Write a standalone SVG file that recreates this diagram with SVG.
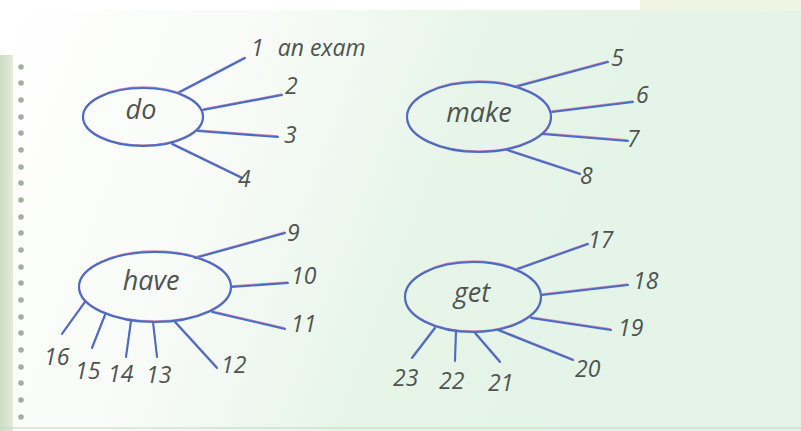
<svg xmlns="http://www.w3.org/2000/svg" width="801" height="431" viewBox="0 0 801 431">
  <defs>
    <linearGradient id="bg" x1="0" y1="0" x2="801" y2="300" gradientUnits="userSpaceOnUse">
      <stop offset="0" stop-color="#ffffff"/>
      <stop offset="0.3" stop-color="#f8fbf7"/>
      <stop offset="0.55" stop-color="#e7f5e9"/>
      <stop offset="1" stop-color="#e3f3e7"/>
    </linearGradient>
    <linearGradient id="strip" x1="0" y1="0" x2="16" y2="0" gradientUnits="userSpaceOnUse">
      <stop offset="0" stop-color="#cddcc3"/>
      <stop offset="1" stop-color="#e8efde"/>
    </linearGradient>
  </defs>
  <style>
    .bubble { fill: none; stroke: #4b6cc4; stroke-width: 2.2; }
    .under { fill: none; stroke: #d58bb0; stroke-width: 1.3; }
    .word { font-family: "Open Sans", "DejaVu Sans", sans-serif; font-style: italic; font-size: 27px; fill: #4e534f; text-anchor: middle; }
    .num { font-family: "Open Sans", "DejaVu Sans", sans-serif; font-style: italic; font-size: 23px; fill: #4e534f; }
    .conn line { stroke: #4b6cc4; stroke-width: 2.1; stroke-linecap: round; }
    .connu line { stroke: #d58bb0; stroke-width: 1.3; }
    .dot { fill: #a3b09f; }
  </style>

  <!-- paper background -->
  <rect x="0" y="0" width="801" height="431" fill="url(#bg)"/>
  <rect x="0" y="0" width="801" height="10" fill="#ffffff"/>
  <rect x="640" y="0" width="161" height="11" fill="#eef3e2"/>
  <rect x="0" y="55" width="13" height="376" fill="url(#strip)"/>
  <g id="perforation">
    <circle class="dot" cx="21" cy="67" r="2.8"/>
    <circle class="dot" cx="21" cy="83" r="2.8"/>
    <circle class="dot" cx="21" cy="100" r="2.8"/>
    <circle class="dot" cx="21" cy="117" r="2.8"/>
    <circle class="dot" cx="21" cy="133" r="2.8"/>
    <circle class="dot" cx="21" cy="150" r="2.8"/>
    <circle class="dot" cx="21" cy="167" r="2.8"/>
    <circle class="dot" cx="21" cy="183" r="2.8"/>
    <circle class="dot" cx="21" cy="200" r="2.8"/>
    <circle class="dot" cx="21" cy="217" r="2.8"/>
    <circle class="dot" cx="21" cy="233" r="2.8"/>
    <circle class="dot" cx="21" cy="250" r="2.8"/>
    <circle class="dot" cx="21" cy="267" r="2.8"/>
    <circle class="dot" cx="21" cy="283" r="2.8"/>
    <circle class="dot" cx="21" cy="300" r="2.8"/>
    <circle class="dot" cx="21" cy="317" r="2.8"/>
    <circle class="dot" cx="21" cy="333" r="2.8"/>
    <circle class="dot" cx="21" cy="350" r="2.8"/>
    <circle class="dot" cx="21" cy="367" r="2.8"/>
    <circle class="dot" cx="21" cy="383" r="2.8"/>
    <circle class="dot" cx="21" cy="400" r="2.8"/>
    <circle class="dot" cx="21" cy="417" r="2.8"/>
  </g>
  <line x1="0" y1="428" x2="801" y2="428" stroke="#c8d3c4" stroke-width="1"/>

  <!-- connectors -->
  <g id="connectors">
    <g class="connu" transform="translate(0,-1)">
      <line x1="178" y1="93" x2="245" y2="58"/>
      <line x1="203" y1="110" x2="282" y2="95"/>
      <line x1="198" y1="131" x2="278" y2="137"/>
      <line x1="172" y1="144" x2="242" y2="178"/>
      <line x1="515" y1="87" x2="608" y2="62"/>
      <line x1="552" y1="112" x2="633" y2="102"/>
      <line x1="542" y1="134" x2="628" y2="141"/>
      <line x1="507" y1="150" x2="580" y2="174"/>
      <line x1="195" y1="258" x2="285" y2="233"/>
      <line x1="231" y1="287" x2="288" y2="283"/>
      <line x1="212" y1="312" x2="285" y2="329"/>
      <line x1="175" y1="322" x2="217" y2="368"/>
      <line x1="153" y1="322" x2="157" y2="357"/>
      <line x1="131" y1="321" x2="126" y2="357"/>
      <line x1="105" y1="315" x2="92" y2="348"/>
      <line x1="85" y1="302" x2="62" y2="334"/>
      <line x1="515" y1="270" x2="588" y2="244"/>
      <line x1="542" y1="295" x2="628" y2="285"/>
      <line x1="531" y1="318" x2="611" y2="330"/>
      <line x1="498" y1="330" x2="573" y2="360"/>
      <line x1="475" y1="333" x2="500" y2="362"/>
      <line x1="456" y1="330" x2="455" y2="361"/>
      <line x1="435" y1="328" x2="412" y2="358"/>
    </g>
    <g class="conn">
      <line x1="178" y1="93" x2="245" y2="58"/>
      <line x1="203" y1="110" x2="282" y2="95"/>
      <line x1="198" y1="131" x2="278" y2="137"/>
      <line x1="172" y1="144" x2="242" y2="178"/>
      <line x1="515" y1="87" x2="608" y2="62"/>
      <line x1="552" y1="112" x2="633" y2="102"/>
      <line x1="542" y1="134" x2="628" y2="141"/>
      <line x1="507" y1="150" x2="580" y2="174"/>
      <line x1="195" y1="258" x2="285" y2="233"/>
      <line x1="231" y1="287" x2="288" y2="283"/>
      <line x1="212" y1="312" x2="285" y2="329"/>
      <line x1="175" y1="322" x2="217" y2="368"/>
      <line x1="153" y1="322" x2="157" y2="357"/>
      <line x1="131" y1="321" x2="126" y2="357"/>
      <line x1="105" y1="315" x2="92" y2="348"/>
      <line x1="85" y1="302" x2="62" y2="334"/>
      <line x1="515" y1="270" x2="588" y2="244"/>
      <line x1="542" y1="295" x2="628" y2="285"/>
      <line x1="531" y1="318" x2="611" y2="330"/>
      <line x1="498" y1="330" x2="573" y2="360"/>
      <line x1="475" y1="333" x2="500" y2="362"/>
      <line x1="456" y1="330" x2="455" y2="361"/>
      <line x1="435" y1="328" x2="412" y2="358"/>
    </g>
  </g>

  <!-- nodes -->
  <g id="node-do">
    <ellipse class="under" cx="143" cy="116" rx="60" ry="29"/>
    <ellipse class="bubble" cx="143" cy="117" rx="60" ry="29"/>
    <text class="word" x="141" y="119">do</text>
  </g>
  <g id="node-make">
    <ellipse class="under" cx="479" cy="116" rx="72" ry="35"/>
    <ellipse class="bubble" cx="479" cy="117" rx="72" ry="35"/>
    <text class="word" x="479" y="122">make</text>
  </g>
  <g id="node-have">
    <ellipse class="under" cx="155" cy="286" rx="76" ry="35"/>
    <ellipse class="bubble" cx="155" cy="287" rx="76" ry="35"/>
    <text class="word" x="151" y="290">have</text>
  </g>
  <g id="node-get">
    <ellipse class="under" cx="473" cy="296" rx="68" ry="35"/>
    <ellipse class="bubble" cx="473" cy="297" rx="68" ry="35"/>
    <text class="word" x="472" y="302">get</text>
  </g>

  <!-- labels -->
  <g id="labels">
    <text class="num" x="251" y="56">1<tspan dx="14">an exam</tspan></text>
    <text class="num" x="285" y="94">2</text>
    <text class="num" x="284" y="143">3</text>
    <text class="num" x="238" y="187">4</text>
    <text class="num" x="611" y="66">5</text>
    <text class="num" x="636" y="103">6</text>
    <text class="num" x="627" y="147">7</text>
    <text class="num" x="580" y="184">8</text>
    <text class="num" x="287" y="241">9</text>
    <text class="num" x="291" y="284">10</text>
    <text class="num" x="291" y="332">11</text>
    <text class="num" x="221" y="373">12</text>
    <text class="num" x="146" y="383">13</text>
    <text class="num" x="108" y="382">14</text>
    <text class="num" x="75" y="379">15</text>
    <text class="num" x="44" y="365">16</text>
    <text class="num" x="588" y="248">17</text>
    <text class="num" x="633" y="289">18</text>
    <text class="num" x="618" y="336">19</text>
    <text class="num" x="575" y="377">20</text>
    <text class="num" x="488" y="391">21</text>
    <text class="num" x="439" y="389">22</text>
    <text class="num" x="393" y="386">23</text>
  </g>
</svg>
